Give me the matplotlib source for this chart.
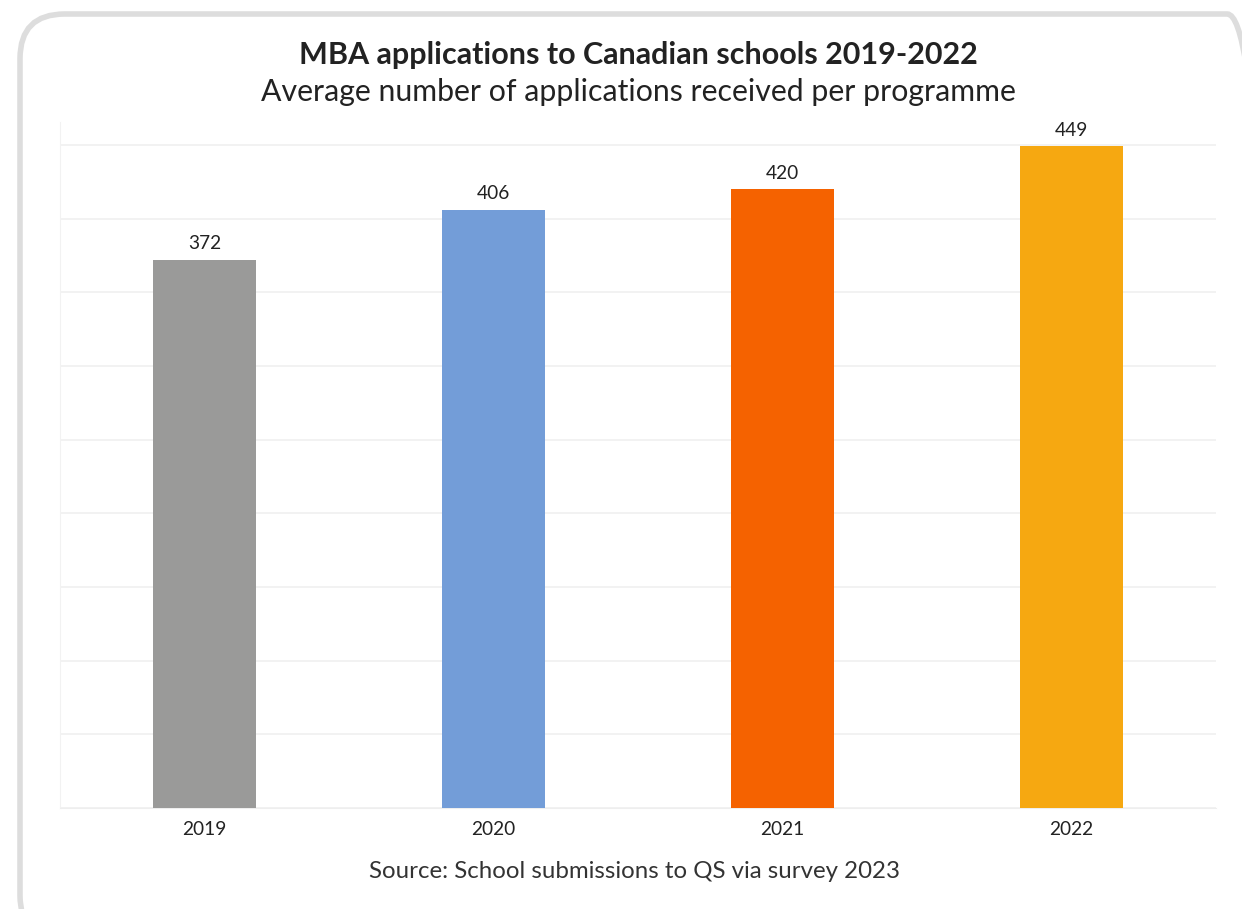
import matplotlib
matplotlib.use("Agg")
import matplotlib.pyplot as plt
from matplotlib.patches import FancyBboxPatch

years = ["2019", "2020", "2021", "2022"]
applications = [372, 406, 420, 449]
bar_colors = ["#9a9a99", "#739dd8", "#f56200", "#f6a811"]

title = "MBA applications to Canadian schools 2019-2022"
subtitle = "Average number of applications received per programme"
source = "Source: School submissions to QS via survey 2023"

plt.rcParams["font.family"] = ["Lato", "DejaVu Sans"]

W, H = 1242, 909
fig = plt.figure(figsize=(W / 100, H / 100), dpi=100)
fig.patch.set_facecolor("white")

# rounded card frame (runs past the right and bottom edges)
left, top, right, bottom = 20, 14, 1272, 940
card = FancyBboxPatch((left / W, 1 - bottom / H), (right - left) / W,
                      (bottom - top) / H,
                      boxstyle="round,pad=0,rounding_size=0.036",
                      transform=fig.transFigure, facecolor="none",
                      edgecolor="#dddddd", linewidth=4, zorder=-1,
                      mutation_aspect=W / H)
fig.patches.append(card)

ax = fig.add_axes([60 / W, 1 - 808 / H, (1216 - 60) / W, (808 - 122) / H])
ax.set_facecolor("none")

x = range(len(years))
ax.bar(x, applications, width=0.353, color=bar_colors, zorder=3)
for xi, v in zip(x, applications):
    ax.text(xi, v + 5, str(v), ha="center", va="bottom", fontsize=13.8,
            color="#222222")

ax.set_xlim(-0.5, 3.5)
ax.set_ylim(0, 465.5)
ax.set_yticks(range(0, 451, 50))
ax.yaxis.grid(True, color="#f0f0f0", linewidth=1.2, zorder=0)
ax.set_axisbelow(True)
ax.tick_params(axis="y", left=False, labelleft=False)
ax.tick_params(axis="x", bottom=False, labelsize=13.8, colors="#222222", pad=6)
ax.set_xticks(list(x))
ax.set_xticklabels(years)
for side in ["top", "right"]:
    ax.spines[side].set_visible(False)
ax.spines["left"].set_color("#f2f2f2")
ax.spines["bottom"].set_color("#eeeeee")

fig.text(638 / W, 1 - 55 / H, title, ha="center", va="center",
         fontsize=22, fontweight="bold", color="#222222")
fig.text(638 / W, 1 - 92 / H, subtitle, ha="center", va="center",
         fontsize=21.8, color="#222222")
fig.text(634 / W, 1 - 871 / H, source, ha="center", va="center",
         fontsize=17.3, color="#333333")

fig.savefig("out.png", dpi=100, facecolor="white")
